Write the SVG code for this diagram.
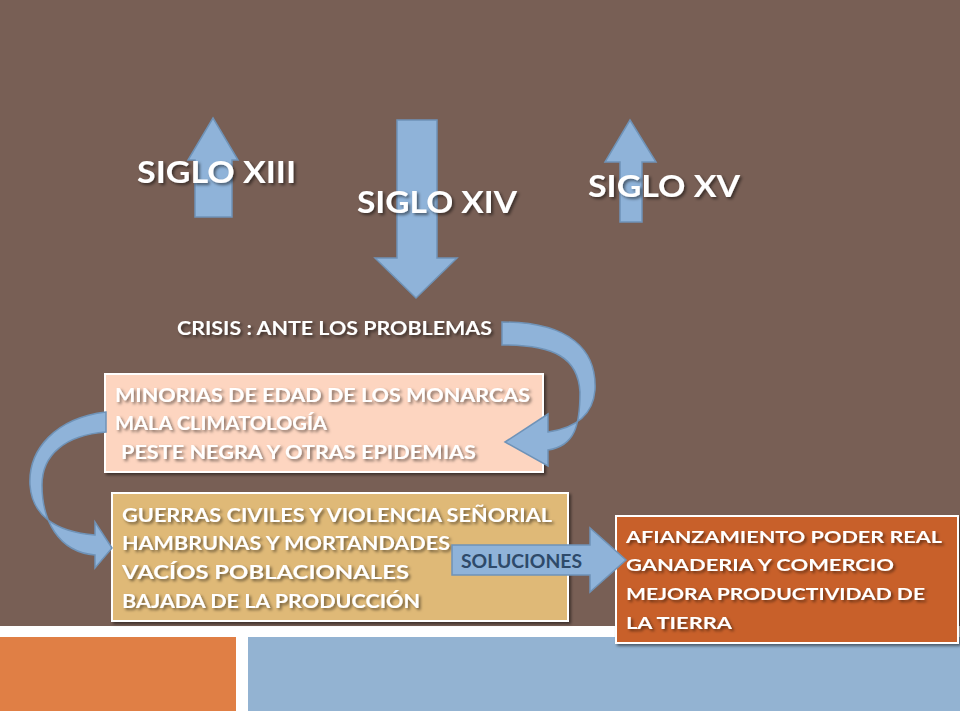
<svg xmlns="http://www.w3.org/2000/svg" width="960" height="720" viewBox="0 0 960 720">
<defs>
<filter id="sh" x="-10%" y="-10%" width="130%" height="130%"><feDropShadow dx="2" dy="2" stdDeviation="1.5" flood-color="#000" flood-opacity="0.5"/></filter>
</defs>
<style>
.t{font-family:Lato,"Open Sans",sans-serif;font-weight:bold;fill:#fff;filter:url(#sh)}
.arr{fill:#8fb3d9;stroke:#6f93b8;stroke-width:1.5}
.box{stroke:#fff;stroke-width:2;filter:url(#sh)}
</style>
<rect width="960" height="720" fill="#785f55"/>
<rect x="0" y="626" width="960" height="94" fill="#fff"/>
<rect x="0" y="637" width="236" height="74" fill="#e07f45"/>
<rect x="248" y="637" width="712" height="74" fill="#93b3d2"/>
<g id="problemas">
<rect class="box" x="105" y="374" width="438" height="98" fill="#fdd5c0"/>
<text class="t" font-size="18"><tspan x="115" y="402" textLength="415" lengthAdjust="spacingAndGlyphs">MINORIAS DE EDAD DE LOS MONARCAS</tspan><tspan x="115" y="430" textLength="212" lengthAdjust="spacingAndGlyphs">MALA CLIMATOLOGÍA</tspan><tspan x="121" y="459" textLength="355" lengthAdjust="spacingAndGlyphs">PESTE NEGRA Y OTRAS EPIDEMIAS</tspan></text>
</g>
<g id="consecuencias">
<rect class="box" x="112" y="493" width="456" height="128" fill="#dfb977"/>
<text class="t" font-size="18"><tspan x="122" y="522" textLength="430" lengthAdjust="spacingAndGlyphs">GUERRAS CIVILES Y VIOLENCIA SEÑORIAL</tspan><tspan x="122" y="550" textLength="328" lengthAdjust="spacingAndGlyphs">HAMBRUNAS Y MORTANDADES</tspan><tspan x="122" y="579" textLength="287" lengthAdjust="spacingAndGlyphs">VACÍOS POBLACIONALES</tspan><tspan x="122" y="608" textLength="298" lengthAdjust="spacingAndGlyphs">BAJADA DE LA PRODUCCIÓN</tspan></text>
</g>
<g id="soluciones">
<rect class="box" x="616" y="516" width="342" height="127" fill="#c8602a"/>
<text class="t" font-size="17"><tspan x="626" y="543" textLength="316" lengthAdjust="spacingAndGlyphs">AFIANZAMIENTO PODER REAL</tspan><tspan x="626" y="571" textLength="268" lengthAdjust="spacingAndGlyphs">GANADERIA Y COMERCIO</tspan><tspan x="626" y="600" textLength="299" lengthAdjust="spacingAndGlyphs">MEJORA PRODUCTIVIDAD DE</tspan><tspan x="626" y="629" textLength="106" lengthAdjust="spacingAndGlyphs">LA TIERRA</tspan></text>
</g>
<g id="connectors">
<path class="arr" d="M213 118 L238 160 L232 160 L232 217 L195 217 L195 160 L188 160 Z"/>
<path class="arr" d="M630 120 L656 162 L642 162 L642 222 L620 222 L620 162 L605 162 Z"/>
<path class="arr" d="M397 120 L437 120 L437 258 L457 258 L416 298 L375 258 L397 258 Z"/>
<path class="arr" d="M502 322 C570 322 597 350 595 390 C593 415 575 428 548 432 L548 414 L505 442 L548 466 L548 450 C575 446 580 425 580 392 C578 358 555 345 502 345 Z"/>
<path class="arr" d="M106 412 C55 418 28 450 30 485 C32 515 55 532 95 535 L95 522 L112 548 L95 568 L95 555 C58 552 42 520 42 485 C42 455 65 435 106 432 Z"/>
<path class="arr" d="M452 545 L590 545 L590 528 L626 560 L590 592 L590 575 L452 575 Z"/>
</g>
<g id="siglo-xiii"><text class="t" x="137" y="183" font-size="30" textLength="159" lengthAdjust="spacingAndGlyphs">SIGLO XIII</text></g>
<g id="siglo-xiv"><text class="t" x="357" y="213" font-size="30" textLength="160" lengthAdjust="spacingAndGlyphs">SIGLO XIV</text></g>
<g id="siglo-xv"><text class="t" x="588" y="197" font-size="30" textLength="152" lengthAdjust="spacingAndGlyphs">SIGLO XV</text></g>
<g id="crisis"><text class="t" x="177" y="335" font-size="18" textLength="315" lengthAdjust="spacingAndGlyphs">CRISIS : ANTE LOS PROBLEMAS</text></g>
<g id="soluciones-label"><text x="461" y="568" font-size="18" textLength="121" lengthAdjust="spacingAndGlyphs" font-family="Lato,'Open Sans',sans-serif" font-weight="bold" fill="#2e4a6a">SOLUCIONES</text></g>
</svg>
